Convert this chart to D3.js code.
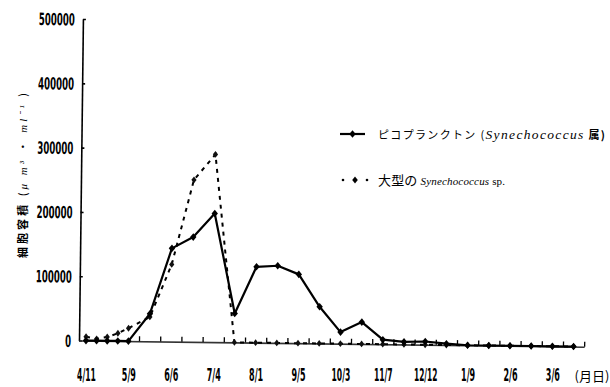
<!DOCTYPE html>
<html>
<head>
<meta charset="utf-8">
<script src="https://cdn.jsdelivr.net/npm/d3@7"></script>
<style>
  body { margin: 0; background: #fff; }
  svg { display: block; }
</style>
</head>
<body>
<svg id="chart" width="610" height="387"></svg>
<script>
// Sampling occasions along the season: weekly in spring, then every two weeks
const slots = [0, 0.5, 1, 1.5, 2, 3, 4, 5, 6, 7, 8, 9, 10, 11, 12, 13, 14, 15, 16, 17, 18, 19, 20, 21, 22, 23];

// Cell volume (µm³·ml⁻¹), picoplankton (Synechococcus)
const pico = [0, 0, 0, 0, 0, 43000, 145000, 163000, 200000, 45000, 118000, 120000, 107000,
              57000, 18000, 34000, 7000, 4000, 5000, 2000, 0, 0, 0, 0, 0, 0];

// Cell volume (µm³·ml⁻¹), large Synechococcus sp.
const large = [6000, 3000, 6000, 12000, 20000, 38000, 120000, 252000, 292000, 0, 0, 0, 0,
               0, 0, 0, 0, 0, 0, 0, 0, 0, 0, 0, 0, 0];

// Date labels (month/day) placed on every second sampling slot
const labelSlots = [0, 2, 4, 6, 8, 10, 12, 14, 16, 18, 20, 22];
const labelText = ["4/11", "5/9", "6/6", "7/4", "8/1", "9/5", "10/3", "11/7", "12/12", "1/9", "2/6", "3/6"];

// Small boundary ticks between sampling slots
const minorSlots = [2.5, 3.5, 4.5, 5.5, 6.5, 7.5, 8.5, 9.5, 10.5, 11.5, 12.5, 13.5, 14.5,
                    15.5, 16.5, 17.5, 18.5, 19.5, 20.5, 21.5, 22.5, 23.5];

const yTickValues = [0, 100000, 200000, 300000, 400000, 500000];

const svg = d3.select("#chart");

const x0 = 79, yBase = 340.5, slotW = 21.2;
const x = d3.scaleLinear().domain([-0.33, 23.5]).range([x0, x0 + slotW * 23.83]);
const y = d3.scaleLinear().domain([0, 500000]).range([yBase, 19]);

const numFont = "'Liberation Sans Narrow', 'DejaVu Sans Condensed', sans-serif";

// plot body is set with a slight clockwise tilt
const g = svg.append("g").attr("transform", `rotate(0.7, ${x0}, ${yBase})`);

// y axis with inward ticks
const yAxis = g.append("g")
  .attr("transform", `translate(${x0},0)`)
  .call(d3.axisLeft(y).tickValues(yTickValues).tickSizeInner(-3).tickSizeOuter(0).tickPadding(8)
        .tickFormat(d3.format("d")));
yAxis.select(".domain").attr("stroke", "#000").attr("stroke-width", 1.6);
yAxis.selectAll(".tick line").attr("stroke", "#000").attr("stroke-width", 1.6);
yAxis.selectAll(".tick text")
  .attr("font-family", numFont).attr("font-weight", "bold").attr("font-size", 17)
  .attr("fill", "#000").attr("dy", "0.36em")
  .attr("textLength", function(d) { return String(d).length * 6; })
  .attr("lengthAdjust", "spacingAndGlyphs");

// x axis: baseline and boundary ticks
const xMinor = g.append("g")
  .attr("transform", `translate(0,${yBase})`)
  .call(d3.axisBottom(x).tickValues(minorSlots).tickSizeInner(-5).tickSizeOuter(0).tickFormat(""));
xMinor.select(".domain").attr("stroke", "#333").attr("stroke-width", 1.6);
xMinor.selectAll(".tick line").attr("stroke", "#000").attr("stroke-width", 1.3);

// x axis date labels (kept level, below the tilted body)
const xLab = svg.append("g")
  .attr("transform", `translate(0,${yBase})`)
  .call(d3.axisBottom(x).tickValues(labelSlots).tickSize(0).tickFormat((d, i) => labelText[i]));
xLab.select(".domain").remove();
xLab.selectAll(".tick text")
  .attr("y", 40).attr("dy", 0)
  .attr("font-family", numFont).attr("font-weight", "bold").attr("font-size", 17.5)
  .attr("fill", "#000")
  .attr("textLength", function(d, i) { return labelText[i].length * 4.7; })
  .attr("lengthAdjust", "spacingAndGlyphs");

svg.append("text")
  .attr("x", 592).attr("y", yBase + 40)
  .attr("text-anchor", "middle")
  .attr("font-family", "'Noto Sans CJK JP', sans-serif").attr("font-size", 13)
  .attr("fill", "#000")
  .text("(月日)");

// diamond marker path centred on (cx, cy)
function diamond(cx, cy, w, h) {
  return `M${cx},${cy - h}L${cx + w},${cy}L${cx},${cy + h}L${cx - w},${cy}Z`;
}

const largeData = slots.map((s, i) => ({ s, v: large[i] }));
const picoData = slots.map((s, i) => ({ s, v: pico[i] }));

const line = d3.line().x(d => x(d.s)).y(d => y(d.v));

// large Synechococcus sp.: dashed line
g.append("path")
  .datum(largeData)
  .attr("fill", "none").attr("stroke", "#000").attr("stroke-width", 2)
  .attr("stroke-dasharray", "4,5")
  .attr("d", line);
g.selectAll(".mk-large").data(largeData).enter().append("path")
  .attr("class", "mk-large")
  .attr("fill", "#111")
  .attr("d", d => diamond(x(d.s), y(d.v), 2.6, 3.4));

// picoplankton: solid line
g.append("path")
  .datum(picoData)
  .attr("fill", "none").attr("stroke", "#000").attr("stroke-width", 2.2)
  .attr("stroke-linejoin", "round")
  .attr("d", line);
g.selectAll(".mk-pico").data(picoData).enter().append("path")
  .attr("class", "mk-pico")
  .attr("fill", "#000")
  .attr("d", d => diamond(x(d.s), y(d.v), 3.2, 3.8));

// y axis title
const yt = svg.append("text")
  .attr("transform", "translate(27,175.5) rotate(-90)")
  .attr("text-anchor", "middle")
  .attr("font-family", "'Noto Sans CJK JP', sans-serif")
  .attr("font-size", 11)
  .attr("fill", "#000")
  .attr("textLength", 165)
  .attr("lengthAdjust", "spacing");
yt.append("tspan").attr("font-weight", "bold").text("細胞容積");
yt.append("tspan").text(" (");
yt.append("tspan").attr("font-style", "italic").attr("font-family", "'Liberation Serif', serif").text("μ m³");
yt.append("tspan").text(" ・ ");
yt.append("tspan").attr("font-style", "italic").attr("font-family", "'Liberation Serif', serif").text("ml⁻¹");
yt.append("tspan").text(" )");

// legend
const leg = svg.append("g");
leg.append("line").attr("x1", 340).attr("x2", 365).attr("y1", 134).attr("y2", 134)
  .attr("stroke", "#000").attr("stroke-width", 2.2);
leg.append("path").attr("d", diamond(352.5, 134, 3.2, 3.8)).attr("fill", "#000");

const t1 = leg.append("text")
  .attr("x", 378).attr("y", 138.5)
  .attr("font-family", "'Noto Sans CJK JP', sans-serif").attr("font-size", 11)
  .attr("fill", "#000")
  .attr("textLength", 227).attr("lengthAdjust", "spacing");
t1.append("tspan").text("ピコプランクトン (");
t1.append("tspan").attr("font-family", "'Liberation Serif', serif").attr("font-style", "italic")
  .attr("font-size", 13.5).text("Synechococcus");
t1.append("tspan").attr("font-weight", "bold").text(" 属)");

leg.append("circle").attr("cx", 343).attr("cy", 180).attr("r", 1.3).attr("fill", "#000");
leg.append("circle").attr("cx", 367).attr("cy", 180).attr("r", 1.3).attr("fill", "#000");
leg.append("path").attr("d", diamond(355, 180, 2.8, 3.6)).attr("fill", "#000");

const t2 = leg.append("text")
  .attr("x", 378).attr("y", 185)
  .attr("font-family", "'Noto Sans CJK JP', sans-serif").attr("font-size", 13)
  .attr("fill", "#000")
  .attr("textLength", 127).attr("lengthAdjust", "spacing");
t2.append("tspan").text("大型の ");
t2.append("tspan").attr("font-family", "'Liberation Serif', serif").attr("font-style", "italic")
  .attr("font-size", 11).text("Synechococcus");
t2.append("tspan").attr("font-family", "'Liberation Serif', serif")
  .attr("font-size", 11).text(" sp.");
</script>
</body>
</html>
